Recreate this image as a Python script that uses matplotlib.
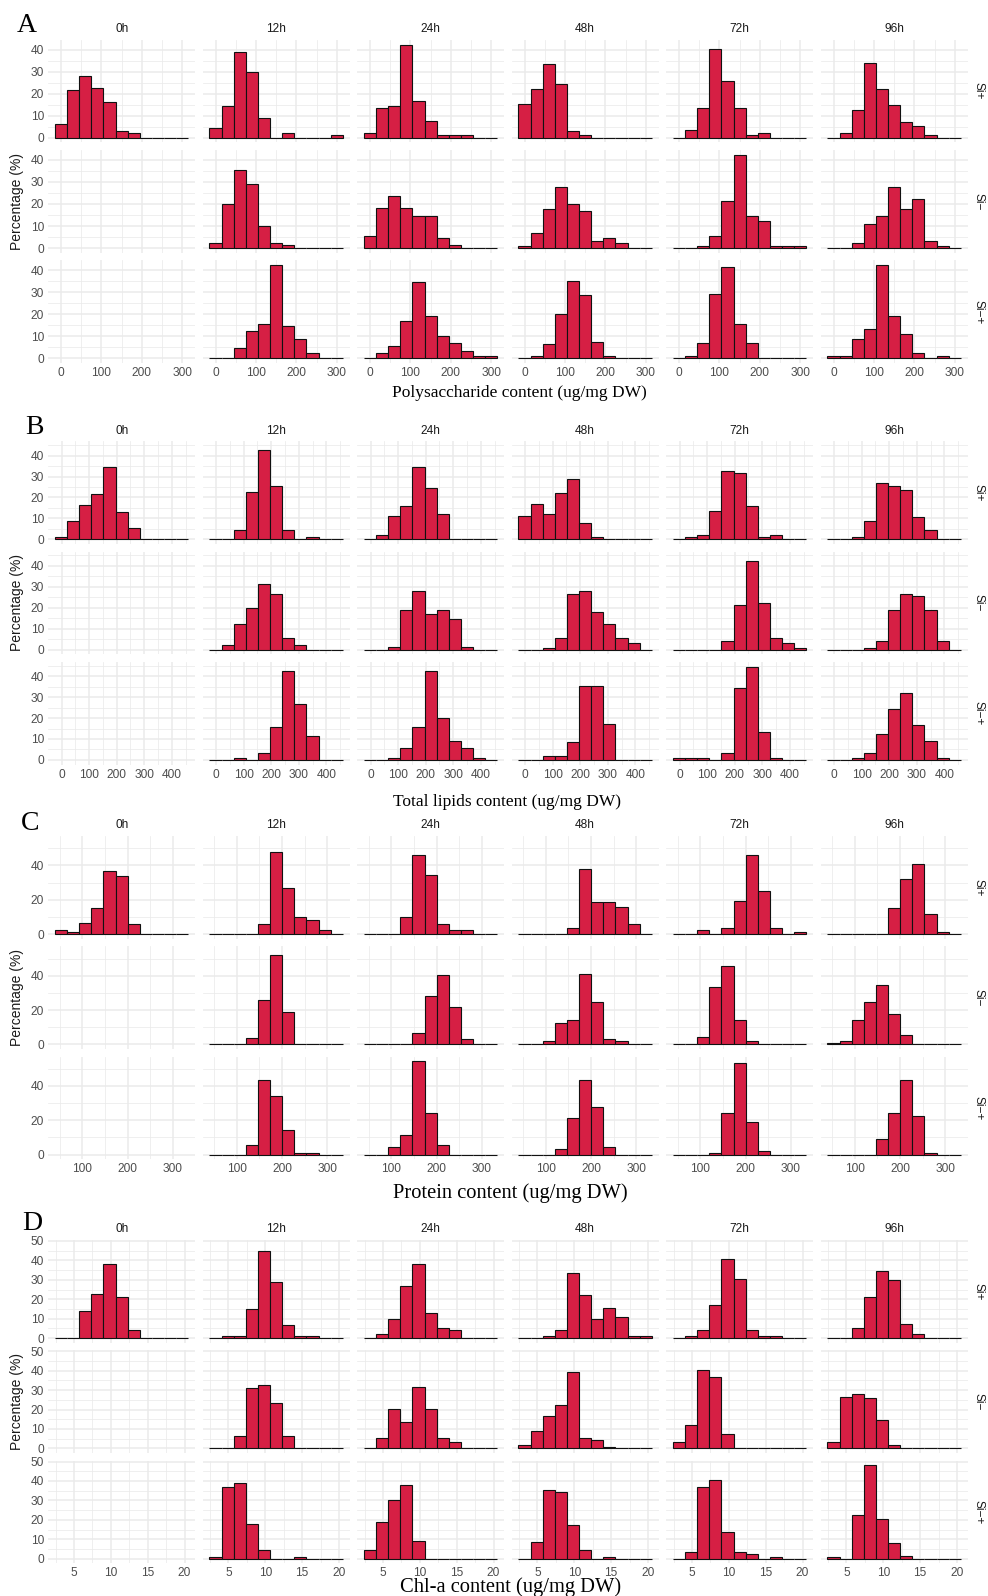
import matplotlib.pyplot as plt
import numpy as np

plt.rcParams['font.family'] = ['Liberation Sans', 'DejaVu Sans']

times = ['0h', '12h', '24h', '48h', '72h', '96h']
groups = ['Si+', 'Si\u2212', 'Si\u2212+']

# A - polysaccharide, percentage per bin, one list per time (None = no data)
poly_edges = [-15, 15, 45, 75, 105, 135, 165, 195, 225, 255, 285, 315]
poly_si_plus = [
    [6.4, 21.5, 27.9, 22.6, 16.1, 3.0, 2.0, 0, 0, 0, 0],
    [4.4, 14.4, 38.9, 30.0, 8.8, 0, 2.1, 0, 0, 0, 1.2],
    [2.0, 13.3, 14.4, 42.3, 16.7, 7.7, 1.1, 1.1, 1.1, 0, 0],
    [15.5, 22.3, 33.3, 24.4, 3.2, 1.1, 0, 0, 0, 0, 0],
    [0, 3.3, 13.5, 40.3, 25.8, 13.3, 1.1, 2.1, 0, 0, 0],
    [0, 2.0, 12.7, 33.9, 22.3, 14.8, 7.3, 5.2, 1.1, 0, 0],
]
poly_si_minus = [
    None,
    [2.3, 20.2, 35.6, 28.9, 10.0, 2.3, 1.2, 0, 0, 0, 0],
    [5.6, 18.0, 23.6, 18.0, 14.5, 14.5, 4.5, 1.2, 0, 0, 0],
    [1.1, 6.7, 17.9, 27.9, 20.0, 16.7, 3.3, 4.4, 2.1, 0, 0],
    [0, 0, 1.1, 5.5, 21.2, 42.3, 14.4, 12.3, 1.1, 1.1, 1.1],
    [0, 0, 2.1, 11.1, 14.4, 27.7, 17.7, 22.3, 3.2, 1.1, 0],
]
poly_si_mp = [
    None,
    [0, 0, 4.5, 12.4, 15.6, 42.4, 14.5, 8.9, 2.4, 0, 0],
    [0, 2.4, 5.6, 16.8, 34.5, 19.1, 10.0, 6.8, 3.3, 1.2, 1.2],
    [0, 1.2, 6.5, 20.3, 35.2, 28.8, 7.6, 1.2, 0, 0, 0],
    [0, 1.2, 6.8, 29.1, 41.4, 15.6, 6.8, 0, 0, 0, 0],
    [1.2, 1.2, 8.9, 13.5, 42.4, 19.1, 11.2, 2.4, 0, 1.2, 0],
]

# B - total lipids
lipid_edges = [-24, 20, 64, 108, 152, 196, 240, 284, 328, 372, 416, 460]
lipid_si_plus = [
    [1.3, 8.8, 16.2, 21.7, 34.6, 13.1, 5.6, 0, 0, 0, 0],
    [0, 0, 4.5, 22.5, 42.5, 25.6, 4.5, 0, 1.1, 0, 0],
    [0, 2.2, 11.3, 15.8, 34.6, 24.5, 12.3, 0, 0, 0, 0],
    [11.3, 16.9, 12.3, 22.3, 29.0, 7.8, 1.3, 0, 0, 0, 0],
    [0, 1.3, 2.2, 13.5, 32.8, 31.7, 15.9, 1.3, 2.2, 0, 0],
    [0, 0, 1.3, 8.6, 26.8, 25.6, 23.6, 10.7, 4.5, 0, 0],
]
lipid_si_minus = [
    None,
    [0, 2.2, 12.3, 20.0, 31.2, 26.7, 5.6, 2.2, 0, 0, 0],
    [0, 0, 1.1, 19.0, 28.0, 16.8, 19.0, 14.6, 1.1, 0, 0],
    [0, 0, 1.0, 5.6, 26.7, 27.8, 17.8, 12.2, 5.6, 3.4, 0],
    [0, 0, 0, 0, 4.3, 21.1, 42.2, 22.2, 5.4, 3.2, 1.0],
    [0, 0, 0, 1.0, 4.3, 18.9, 26.7, 25.6, 18.9, 4.3, 0],
]
lipid_si_mp = [
    None,
    [0, 0, 1.1, 0, 3.3, 15.8, 42.4, 26.8, 11.2, 0, 0],
    [0, 0, 1.1, 5.6, 15.8, 42.4, 20.1, 8.9, 5.6, 1.1, 0],
    [0, 0, 1.9, 1.9, 8.6, 35.2, 35.2, 17.2, 0, 0, 0],
    [1.0, 1.0, 1.0, 0, 3.3, 34.6, 44.6, 13.4, 1.1, 0, 0],
    [0, 0, 1.1, 3.3, 12.3, 24.4, 32.0, 16.7, 8.9, 1.1, 0],
]

# C - protein
prot_edges = [39.0, 65.9, 92.8, 119.7, 146.6, 173.5, 200.4, 227.3, 254.2, 281.1, 308.0, 334.9]
prot_si_plus = [
    [2.3, 1.2, 6.6, 15.2, 36.7, 33.6, 5.7, 0, 0, 0, 0],
    [0, 0, 0, 0, 5.9, 48.0, 26.9, 10.1, 8.0, 2.3, 0],
    [0, 0, 0, 10.1, 45.9, 34.5, 5.9, 2.3, 2.3, 0, 0],
    [0, 0, 0, 0, 3.3, 37.9, 18.9, 18.9, 15.6, 5.7, 0],
    [0, 0, 2.3, 0, 3.5, 19.1, 46.2, 24.8, 3.5, 0, 1.2],
    [0, 0, 0, 0, 0, 15.0, 32.0, 40.6, 11.9, 1.2, 0],
]
prot_si_minus = [
    None,
    [0, 0, 0, 3.5, 25.6, 52.3, 18.9, 0, 0, 0, 0],
    [0, 0, 0, 0, 6.8, 28.3, 40.4, 21.5, 3.3, 0, 0],
    [0, 0, 2.1, 12.3, 14.4, 41.2, 24.4, 3.3, 2.1, 0, 0],
    [0, 0, 4.5, 33.4, 45.5, 14.4, 2.1, 0, 0, 0, 0],
    [1.0, 2.1, 14.4, 24.4, 34.3, 17.8, 5.5, 0, 0, 0, 0],
]
prot_si_mp = [
    None,
    [0, 0, 0, 5.8, 43.3, 34.4, 14.6, 1.2, 1.2, 0, 0],
    [0, 0, 4.7, 11.3, 54.4, 24.5, 5.6, 0, 0, 0, 0],
    [0, 0, 0, 3.3, 21.4, 43.7, 27.8, 4.3, 0, 0, 0],
    [0, 0, 0, 1.0, 24.5, 53.4, 19.0, 2.1, 0, 0, 0],
    [0, 0, 0, 0, 9.3, 24.5, 43.3, 22.3, 1.0, 0, 0],
]

# D - Chl-a
chl_edges = [2.42, 4.07, 5.71, 7.36, 9.0, 10.65, 12.29, 13.94, 15.58, 17.23, 18.87, 20.52]
chl_si_plus = [
    [0, 0, 13.8, 22.5, 37.9, 21.3, 4.0, 0, 0, 0, 0],
    [0, 0.9, 0.9, 15.1, 44.6, 29.1, 6.6, 0.9, 0.9, 0, 0],
    [0, 2.1, 9.9, 26.8, 37.9, 13.1, 5.4, 4.3, 0, 0, 0],
    [0, 0, 0.9, 4.2, 33.4, 22.1, 9.9, 15.4, 10.9, 0.9, 0.9],
    [0, 0.9, 4.2, 16.8, 40.7, 30.4, 4.2, 0.9, 0.9, 0, 0],
    [0, 0, 5.2, 21.3, 34.3, 29.8, 7.3, 1.9, 0, 0, 0],
]
chl_si_minus = [
    None,
    [0, 0, 6.6, 31.2, 32.4, 23.4, 6.6, 0, 0, 0, 0],
    [0, 5.5, 20.2, 13.4, 31.6, 20.2, 5.5, 3.3, 0, 0, 0],
    [1.9, 9.0, 16.6, 22.2, 39.1, 5.3, 4.3, 0.9, 0, 0, 0],
    [3.1, 12.1, 40.2, 36.9, 7.6, 0, 0, 0, 0, 0, 0],
    [3.1, 26.7, 27.9, 25.7, 14.5, 1.9, 0, 0, 0, 0, 0],
]
chl_si_mp = [
    None,
    [1.0, 36.9, 39.1, 17.9, 4.5, 0, 0, 1.0, 0, 0, 0],
    [4.5, 19.1, 30.2, 38.1, 9.0, 0, 0, 0, 0, 0, 0],
    [0, 8.8, 35.3, 34.3, 17.2, 4.3, 0, 1.0, 0, 0, 0],
    [0, 3.4, 37.1, 40.3, 13.6, 3.4, 2.2, 0, 1.0, 0, 0],
    [1.0, 0, 22.4, 48.1, 20.2, 7.8, 1.2, 0, 0, 0, 0],
]

W, H = 988, 1596
fig = plt.figure(figsize=(W / 100, H / 100), dpi=100)

FILL = '#D61F44'
GRID = '#EBEBEB'
TICKC = '#4D4D4D'


def box(left, top, w, h):
    return [left / W, 1 - (top + h) / H, w / W, h / H]


def fx(px):
    return px / W


def fy(py):
    return 1 - py / H


# letter, x title, edges, rows, x ticks, x minor, y ticks, y minor,
# layout: panel top, letter pos, title pos, title size
specs = [
    ('A', 'Polysaccharide content (ug/mg DW)', poly_edges,
     [poly_si_plus, poly_si_minus, poly_si_mp],
     [0, 100, 200, 300], [50, 150, 250],
     [0, 10, 20, 30, 40], [5, 15, 25, 35],
     39.7, (26.5, 25), (519, 393), 12.5),
    ('B', 'Total lipids content (ug/mg DW)', lipid_edges,
     [lipid_si_plus, lipid_si_minus, lipid_si_mp],
     [0, 100, 200, 300, 400], [50, 150, 250, 350, 450],
     [0, 10, 20, 30, 40], [5, 15, 25, 35, 45],
     441.3, (34, 428), (507, 802), 12.5),
    ('C', 'Protein content (ug/mg DW)', prot_edges,
     [prot_si_plus, prot_si_minus, prot_si_mp],
     [100, 200, 300], [50, 150, 250],
     [0, 20, 40], [10, 30, 50],
     836, (30, 823), (510, 1193), 14.8),
    ('D', 'Chl-a content (ug/mg DW)', chl_edges,
     [chl_si_plus, chl_si_minus, chl_si_mp],
     [5, 10, 15, 20], [2.5, 7.5, 12.5, 17.5],
     [0, 10, 20, 30, 40, 50], [5, 15, 25, 35, 45],
     1240, (32.5, 1223), (511, 1587), 14.8),
]

col_left = 48.3
col_step = 154.5
col_w = 146.7
row_h = 102.7
row_step = 110.3

for (letter, xtitle, edges, rows, xt, xmin, yt, ymin,
     top0, lpos, tpos, tsize) in specs:
    edges = np.array(edges)
    widths = np.diff(edges)
    ymax = max(max(h) for r in rows for h in r if h is not None)
    span = edges[-1] - edges[0]
    xlim = (edges[0] - 0.05 * span, edges[-1] + 0.05 * span)
    ylim = (-0.05 * ymax, 1.05 * ymax)

    for r, row in enumerate(rows):
        top = top0 + r * row_step
        for c, heights in enumerate(row):
            left = col_left + c * col_step
            ax = fig.add_axes(box(left, top, col_w, row_h))
            ax.set_xlim(xlim)
            ax.set_ylim(ylim)
            ax.set_xticks(xt)
            ax.set_xticks(xmin, minor=True)
            ax.set_yticks(yt)
            ax.set_yticks(ymin, minor=True)
            ax.grid(which='major', color=GRID, lw=1.1)
            ax.grid(which='minor', color=GRID, lw=0.55)
            ax.set_axisbelow(True)
            for s in ax.spines.values():
                s.set_visible(False)
            ax.tick_params(which='both', length=0, labelsize=8.6,
                           labelcolor=TICKC, pad=3)
            if c > 0:
                ax.set_yticklabels([])
            if r < 2:
                ax.set_xticklabels([])
            if heights is not None:
                ax.bar(edges[:-1], heights, width=widths, align='edge',
                       color=FILL, edgecolor='#111111', linewidth=0.8)
            if r == 0:
                fig.text(fx(left + col_w / 2), fy(top - 10.7), times[c],
                         ha='center', va='center', fontsize=8.6,
                         color='#1A1A1A')
            if c == 5:
                fig.text(fx(978), fy(top + row_h / 2), groups[r],
                         rotation=270, ha='center', va='center',
                         fontsize=8.6, color='#1A1A1A')

    mid = top0 + row_step + row_h / 2
    fig.text(fx(17), fy(mid), 'Percentage (%)', rotation=90,
             ha='center', va='center', fontsize=10, color='#1A1A1A')
    fig.text(fx(lpos[0]), fy(lpos[1]), letter, ha='center', va='center',
             fontsize=20, family='Liberation Serif')
    fig.text(fx(tpos[0]), fy(tpos[1]), xtitle, ha='center', va='center',
             fontsize=tsize, family='Liberation Serif')

fig.savefig('out.png', dpi=100, facecolor='white')
